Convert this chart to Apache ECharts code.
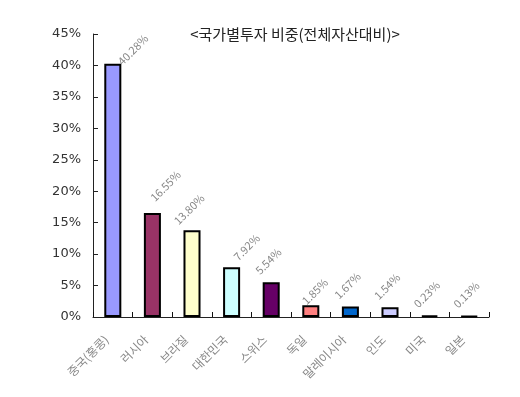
<!DOCTYPE html>
<html><head><meta charset="utf-8">
<script src="https://cdn.jsdelivr.net/npm/echarts@6/dist/echarts.min.js"></script>
<style>html,body{margin:0;padding:0;background:#fff}#c{width:520px;height:397px}</style>
</head><body><div id="c"></div>
<script>
const categories = ['중국(홍콩)','러시아','브라질','대한민국','스위스','독일','말레이시아','인도','미국','일본'];
const values = [40.28, 16.55, 13.80, 7.92, 5.54, 1.85, 1.67, 1.54, 0.23, 0.13];
const barColors = ['#9999FF','#993366','#FFFFCC','#CCFFFF','#660066','#FF8080','#0066CC','#CCCCFF','#000000','#000000'];
const titleText = '<국가별투자 비중(전체자산대비)>';
const font = '"Noto Sans CJK KR", "Noto Sans", sans-serif';

// screen-space nudges of the rotated value labels (relative to bar top centre)
const labelNudge = {0: [24, -10], 1: [17, -23], 3: [19, -16], 5: [8, -10]};
const defaultNudge = [1, -17];
function rotOffset(d) {
  const c = Math.SQRT1_2;
  return [(d[0] - d[1]) * c, (d[0] + d[1]) * c];
}

const chart = echarts.init(document.getElementById('c'));
chart.setOption({
  animation: false,
  backgroundColor: '#fff',
  title: {
    text: titleText, left: 290, top: 22, textAlign: 'center',
    textStyle: {fontFamily: font, fontSize: 15, fontWeight: 'normal', color: '#222'}
  },
  grid: {left: 93, right: 31, top: 34, bottom: 80},
  xAxis: {
    type: 'category', data: categories,
    axisLine: {show: true, lineStyle: {color: '#222', width: 1}},
    axisTick: {show: true, inside: true, length: 5, interval: 0, alignWithLabel: false, lineStyle: {color: '#111', width: 1}},
    axisLabel: {rotate: 45, interval: 0, color: '#888', fontSize: 12, fontFamily: font, margin: 14, padding: [0, 9, 0, 0]}
  },
  yAxis: {
    type: 'value', min: 0, max: 45, interval: 5,
    splitLine: {show: false},
    axisLine: {show: true, lineStyle: {color: '#222', width: 1}},
    axisTick: {show: true, inside: true, length: 5, lineStyle: {color: '#222'}},
    axisLabel: {formatter: '{value}%', color: '#333', fontSize: 13, fontFamily: '"DejaVu Sans", sans-serif', margin: 12}
  },
  series: [{
    type: 'bar', barWidth: '43%', z: 1,
    data: values.map((v, i) => ({
      value: v,
      itemStyle: {color: barColors[i]},
      label: {offset: rotOffset(labelNudge[i] || defaultNudge)}
    })),
    itemStyle: {borderColor: '#000', borderWidth: 2},
    label: {
      show: true, position: 'top', rotate: 45, distance: 0,
      formatter: p => p.value.toFixed(2) + '%',
      color: '#888', fontSize: 11, fontFamily: font
    }
  }]
});
</script></body></html>
